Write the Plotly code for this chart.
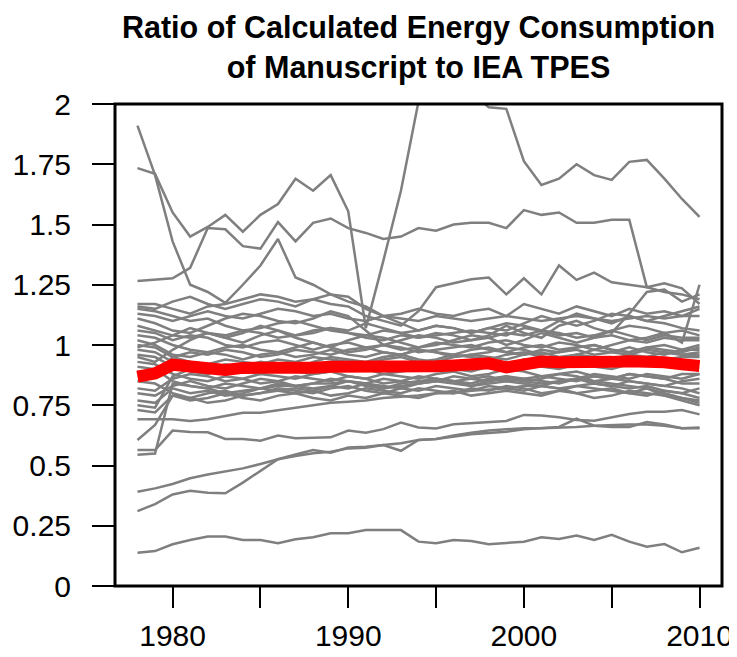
import plotly.graph_objects as go

years = list(range(1978, 2011))

# gray series: ratio per country
s_a = [1.91, 1.705, 1.43, 1.25, 1.22, 1.175, 1.25, 1.33, 1.44, 1.28, 1.25, 1.21, 1.20, 1.15, 1.12, 1.13, 1.15, 1.13, 1.12, 1.14, 1.15, 1.12, 1.17, 1.15, 1.13, 1.16, 1.14, 1.12, 1.15, 1.13, 1.14, 1.12, 1.15]
s_b = [1.734, 1.71, 1.55, 1.45, 1.49, 1.54, 1.47, 1.54, 1.585, 1.69, 1.64, 1.705, 1.555, 1.07, 1.35, 1.64, 2.01, 2.1, 2.08, 2.05, 1.986, 1.98, 1.763, 1.664, 1.69, 1.75, 1.705, 1.685, 1.76, 1.768, 1.69, 1.606, 1.532]
s_c = [1.266, 1.27, 1.277, 1.32, 1.485, 1.48, 1.41, 1.40, 1.51, 1.43, 1.507, 1.525, 1.485, 1.465, 1.44, 1.45, 1.485, 1.474, 1.50, 1.507, 1.507, 1.485, 1.56, 1.54, 1.55, 1.507, 1.507, 1.52, 1.52, 1.24, 1.22, 1.21, 1.19]
s_d = [1.17, 1.17, 1.15, 1.13, 1.16, 1.17, 1.19, 1.21, 1.20, 1.18, 1.19, 1.17, 1.16, 1.12, 1.10, 1.08, 1.14, 1.24, 1.256, 1.273, 1.28, 1.21, 1.277, 1.21, 1.33, 1.27, 1.30, 1.26, 1.25, 1.24, 1.256, 1.235, 1.17]
s_e = [1.15, 1.14, 1.12, 1.10, 1.11, 1.08, 1.06, 1.07, 1.09, 1.10, 1.08, 1.06, 1.05, 1.04, 1.06, 1.05, 1.03, 1.04, 1.05, 1.06, 1.05, 1.04, 1.07, 1.06, 1.04, 1.05, 1.03, 1.04, 1.02, 1.03, 1.05, 1.01, 1.25]
s_f = [1.13, 1.12, 1.10, 1.12, 1.14, 1.12, 1.11, 1.13, 1.15, 1.14, 1.12, 1.13, 1.11, 1.10, 1.12, 1.11, 1.10, 1.12, 1.11, 1.10, 1.11, 1.12, 1.11, 1.10, 1.11, 1.12, 1.11, 1.10, 1.11, 1.12, 1.11, 1.12, 1.12]
s_g = [1.11, 1.09, 1.06, 1.05, 1.08, 1.11, 1.13, 1.12, 1.10, 1.09, 1.11, 1.14, 1.12, 1.06, 1.00, 1.02, 1.04, 1.03, 1.01, 1.02, 1.04, 1.08, 1.05, 1.03, 1.08, 1.10, 1.07, 1.05, 1.13, 1.22, 1.23, 1.18, 1.21]
s_h = [1.08, 1.06, 1.04, 1.03, 1.05, 1.04, 1.06, 1.05, 1.03, 1.04, 1.06, 1.07, 1.05, 1.03, 1.02, 1.04, 1.03, 1.05, 1.04, 1.02, 1.03, 1.05, 1.04, 1.06, 1.05, 1.03, 1.04, 1.06, 1.08, 1.07, 1.05, 1.06, 1.04]
s_i = [1.06, 1.05, 1.02, 1.04, 1.03, 1.00, 0.99, 1.01, 1.02, 1.00, 0.98, 1.00, 1.01, 0.99, 1.00, 0.98, 0.99, 1.01, 1.00, 0.99, 1.01, 1.02, 1.00, 0.99, 1.01, 1.00, 0.98, 1.00, 1.02, 1.01, 1.03, 1.02, 1.02]
s_j = [1.04, 1.03, 1.00, 0.98, 0.97, 0.99, 1.00, 0.98, 0.97, 0.99, 1.01, 0.99, 0.97, 0.98, 1.00, 0.99, 0.97, 0.98, 0.99, 1.00, 0.98, 0.97, 0.99, 1.00, 0.98, 0.99, 1.00, 0.98, 0.97, 0.99, 1.00, 0.98, 1.00]
s_k = [1.02, 1.00, 0.96, 0.95, 0.97, 0.96, 0.94, 0.96, 0.97, 0.95, 0.96, 0.98, 0.96, 0.95, 0.97, 0.96, 0.98, 0.97, 0.95, 0.96, 0.97, 0.99, 0.98, 0.96, 0.97, 0.98, 0.96, 0.97, 0.99, 0.97, 0.96, 0.98, 0.98]
s_l = [1.00, 0.99, 0.95, 0.93, 0.92, 0.94, 0.93, 0.92, 0.94, 0.93, 0.95, 0.94, 0.93, 0.92, 0.94, 0.95, 0.93, 0.94, 0.96, 0.95, 0.94, 0.96, 0.97, 0.95, 0.94, 0.96, 0.95, 0.94, 0.96, 0.95, 0.97, 0.96, 0.96]
s_m = [0.98, 0.97, 0.93, 0.91, 0.90, 0.92, 0.91, 0.90, 0.92, 0.91, 0.90, 0.92, 0.93, 0.91, 0.90, 0.92, 0.91, 0.93, 0.92, 0.91, 0.93, 0.92, 0.94, 0.93, 0.92, 0.94, 0.93, 0.92, 0.94, 0.95, 0.94, 0.95, 0.95]
s_n = [0.96, 0.95, 0.91, 0.89, 0.88, 0.90, 0.89, 0.88, 0.90, 0.89, 0.88, 0.89, 0.91, 0.90, 0.88, 0.89, 0.90, 0.91, 0.90, 0.89, 0.91, 0.90, 0.92, 0.91, 0.90, 0.92, 0.91, 0.90, 0.92, 0.93, 0.92, 0.93, 0.93]
s_o = [0.95, 0.93, 0.98, 1.02, 1.05, 1.03, 1.01, 1.04, 1.06, 1.03, 1.01, 0.99, 1.02, 1.04, 1.03, 1.01, 0.99, 1.00, 1.02, 1.04, 1.03, 1.00, 1.02, 1.05, 1.03, 1.01, 1.03, 1.06, 1.04, 1.02, 1.04, 1.03, 1.03]
s_p = [0.93, 0.92, 0.88, 0.86, 0.85, 0.87, 0.86, 0.84, 0.85, 0.87, 0.86, 0.85, 0.87, 0.86, 0.84, 0.85, 0.87, 0.86, 0.85, 0.84, 0.86, 0.87, 0.85, 0.86, 0.88, 0.87, 0.85, 0.86, 0.88, 0.87, 0.86, 0.88, 0.88]
s_q = [0.91, 0.90, 0.85, 0.83, 0.82, 0.84, 0.83, 0.82, 0.84, 0.83, 0.82, 0.83, 0.85, 0.84, 0.82, 0.83, 0.84, 0.86, 0.85, 0.83, 0.84, 0.85, 0.84, 0.83, 0.85, 0.86, 0.84, 0.83, 0.85, 0.84, 0.83, 0.85, 0.86]
s_r = [0.89, 0.88, 0.95, 0.97, 0.96, 0.98, 0.97, 0.95, 0.96, 0.98, 0.97, 0.96, 0.98, 0.99, 0.97, 0.96, 0.98, 0.97, 0.96, 0.98, 0.99, 0.97, 0.96, 0.98, 0.97, 0.99, 1.00, 0.98, 0.97, 0.99, 0.98, 0.97, 0.99]
s_s = [0.85, 0.84, 0.80, 0.78, 0.80, 0.81, 0.79, 0.80, 0.82, 0.81, 0.80, 0.82, 0.83, 0.81, 0.80, 0.82, 0.81, 0.83, 0.82, 0.81, 0.83, 0.82, 0.81, 0.83, 0.82, 0.80, 0.81, 0.82, 0.80, 0.79, 0.81, 0.80, 0.82]
s_t = [0.82, 0.81, 0.86, 0.88, 0.87, 0.85, 0.86, 0.88, 0.87, 0.86, 0.88, 0.89, 0.87, 0.86, 0.88, 0.87, 0.86, 0.88, 0.89, 0.87, 0.88, 0.90, 0.89, 0.87, 0.88, 0.89, 0.87, 0.86, 0.88, 0.87, 0.86, 0.84, 0.84]
s_u = [0.80, 0.79, 0.83, 0.85, 0.83, 0.82, 0.84, 0.86, 0.85, 0.83, 0.84, 0.86, 0.85, 0.84, 0.86, 0.85, 0.84, 0.85, 0.87, 0.86, 0.85, 0.87, 0.86, 0.85, 0.84, 0.86, 0.85, 0.84, 0.83, 0.82, 0.80, 0.78, 0.77]
s_v = [0.77, 0.76, 0.82, 0.80, 0.81, 0.79, 0.80, 0.82, 0.81, 0.80, 0.81, 0.79, 0.80, 0.82, 0.81, 0.80, 0.82, 0.81, 0.80, 0.82, 0.81, 0.83, 0.82, 0.80, 0.81, 0.83, 0.82, 0.81, 0.80, 0.82, 0.79, 0.77, 0.75]
s_w = [0.75, 0.74, 0.87, 0.90, 0.92, 0.89, 0.91, 0.93, 0.92, 0.90, 0.93, 0.95, 0.94, 0.93, 0.95, 0.96, 0.94, 0.93, 0.95, 0.96, 0.95, 0.94, 0.96, 0.97, 0.95, 0.96, 0.98, 0.97, 0.96, 0.98, 0.97, 0.96, 0.97]
s_x = [0.73, 0.72, 0.79, 0.77, 0.78, 0.80, 0.78, 0.77, 0.79, 0.80, 0.78, 0.77, 0.79, 0.78, 0.80, 0.79, 0.78, 0.80, 0.81, 0.79, 0.80, 0.81, 0.80, 0.79, 0.81, 0.80, 0.78, 0.79, 0.81, 0.80, 0.79, 0.78, 0.76]
s_y = [1.16, 1.15, 1.18, 1.20, 1.17, 1.15, 1.17, 1.19, 1.18, 1.16, 1.19, 1.21, 1.18, 1.16, 1.12, 1.09, 1.06, 1.08, 1.07, 1.05, 1.07, 1.09, 1.08, 1.06, 1.10, 1.13, 1.11, 1.09, 1.12, 1.10, 1.12, 1.14, 1.16]
s_z = [0.99, 1.01, 1.04, 1.07, 1.05, 1.03, 1.05, 1.08, 1.06, 1.04, 1.05, 1.07, 1.06, 1.09, 1.07, 1.05, 1.06, 1.08, 1.07, 1.05, 1.07, 1.06, 1.09, 1.12, 1.10, 1.08, 1.10, 1.13, 1.12, 1.10, 1.09, 1.07, 1.06]
low_y = [0.545, 0.55, 0.84, 0.83, 0.82, 0.80, 0.81, 0.82, 0.83, 0.83, 0.84, 0.84, 0.85, 0.83, 0.82, 0.84, 0.85, 0.86, 0.85, 0.86, 0.87, 0.85, 0.86, 0.87, 0.86, 0.85, 0.87, 0.86, 0.85, 0.84, 0.83, 0.82, 0.80]
low_z = [0.606, 0.668, 0.79, 0.78, 0.76, 0.77, 0.79, 0.80, 0.81, 0.82, 0.81, 0.83, 0.82, 0.84, 0.83, 0.82, 0.84, 0.85, 0.84, 0.83, 0.85, 0.86, 0.85, 0.84, 0.85, 0.86, 0.88, 0.87, 0.86, 0.88, 0.87, 0.86, 0.88]
low_w = [0.692, 0.692, 0.692, 0.685, 0.692, 0.705, 0.719, 0.719, 0.73, 0.74, 0.75, 0.76, 0.765, 0.77, 0.78, 0.785, 0.79, 0.80, 0.80, 0.81, 0.815, 0.82, 0.83, 0.83, 0.82, 0.83, 0.84, 0.83, 0.82, 0.83, 0.81, 0.80, 0.78]
low_x = [0.564, 0.564, 0.645, 0.639, 0.638, 0.61, 0.61, 0.603, 0.624, 0.613, 0.615, 0.617, 0.645, 0.636, 0.651, 0.678, 0.658, 0.654, 0.671, 0.675, 0.679, 0.685, 0.71, 0.707, 0.70, 0.689, 0.686, 0.70, 0.714, 0.723, 0.723, 0.73, 0.712]
low_2 = [0.311, 0.34, 0.38, 0.395, 0.387, 0.385, 0.429, 0.478, 0.526, 0.546, 0.564, 0.553, 0.575, 0.578, 0.585, 0.561, 0.606, 0.61, 0.62, 0.63, 0.635, 0.64, 0.65, 0.655, 0.66, 0.695, 0.665, 0.66, 0.66, 0.68, 0.67, 0.655, 0.655]
low_3 = [0.391, 0.405, 0.423, 0.447, 0.463, 0.474, 0.488, 0.506, 0.526, 0.539, 0.551, 0.557, 0.571, 0.574, 0.585, 0.592, 0.606, 0.61, 0.625, 0.636, 0.645, 0.65, 0.655, 0.655, 0.657, 0.66, 0.665, 0.668, 0.67, 0.67, 0.665, 0.655, 0.658]
low_1 = [0.138, 0.145, 0.173, 0.191, 0.205, 0.205, 0.191, 0.191, 0.177, 0.194, 0.202, 0.219, 0.219, 0.232, 0.232, 0.232, 0.184, 0.177, 0.191, 0.187, 0.173, 0.18, 0.184, 0.202, 0.195, 0.209, 0.191, 0.212, 0.184, 0.163, 0.174, 0.14, 0.159]

# overall ratio (red)
total = [0.869, 0.882, 0.918, 0.907, 0.896, 0.896, 0.905, 0.903, 0.905, 0.908, 0.906, 0.91, 0.909, 0.907, 0.906, 0.905, 0.91, 0.912, 0.915, 0.918, 0.924, 0.907, 0.924, 0.931, 0.928, 0.926, 0.928, 0.93, 0.933, 0.935, 0.928, 0.92, 0.913]

gray_series = [s_a, s_b, s_c, s_d, s_e, s_f, s_g, s_h, s_i, s_j, s_k, s_l, s_m, s_n,
               s_o, s_p, s_q, s_r, s_s, s_t, s_u, s_v, s_w, s_x, s_y, s_z,
               low_y, low_z, low_w, low_x, low_2, low_3, low_1]

x_ticks = [1980, 1985, 1990, 1995, 2000, 2005, 2010]
x_labels = ["1980", "", "1990", "", "2000", "", "2010"]
y_ticks = [0, 0.25, 0.5, 0.75, 1, 1.25, 1.5, 1.75, 2]
y_labels = ["0", "0.25", "0.5", "0.75", "1", "1.25", "1.5", "1.75", "2"]

FONT = "Liberation Sans, Arial, sans-serif"

fig = go.Figure()
for vals in gray_series:
    fig.add_trace(go.Scatter(x=years, y=vals, mode="lines",
                             line=dict(color="#7f7f7f", width=2.5),
                             hoverinfo="skip", showlegend=False))
fig.add_trace(go.Scatter(x=years, y=total, mode="lines",
                         line=dict(color="#ff0000", width=12),
                         showlegend=False))

# margins allow for the 8px page margin around the plot div
fig.update_layout(
    width=737, height=657,
    margin=dict(l=107, r=23, t=96, b=79),
    plot_bgcolor="white", paper_bgcolor="white",
    font=dict(family=FONT, color="black", size=30),
    title=dict(text="<b>Ratio of Calculated Energy Consumption<br>of Manuscript to IEA TPES</b>",
               xref="paper", x=0.5, xanchor="center", y=0.9543, yanchor="middle",
               font=dict(size=30.5, family=FONT)),
    xaxis=dict(range=[1976.72, 2011.28], showgrid=False, zeroline=False,
               automargin=False,
               tickvals=x_ticks, ticktext=x_labels, ticks="outside",
               ticklen=21, tickwidth=2, tickcolor="black",
               ticklabelstandoff=2),
    yaxis=dict(range=[0, 2], showgrid=False, zeroline=False,
               automargin=False,
               tickvals=y_ticks, ticktext=y_labels, ticks="outside",
               ticklen=22, tickwidth=2, tickcolor="black",
               ticklabelstandoff=15),
    shapes=[dict(type="rect", xref="paper", yref="paper", x0=0, x1=1, y0=0, y1=1,
                 line=dict(color="black", width=3), layer="above")],
)

fig.write_html("out.html")
